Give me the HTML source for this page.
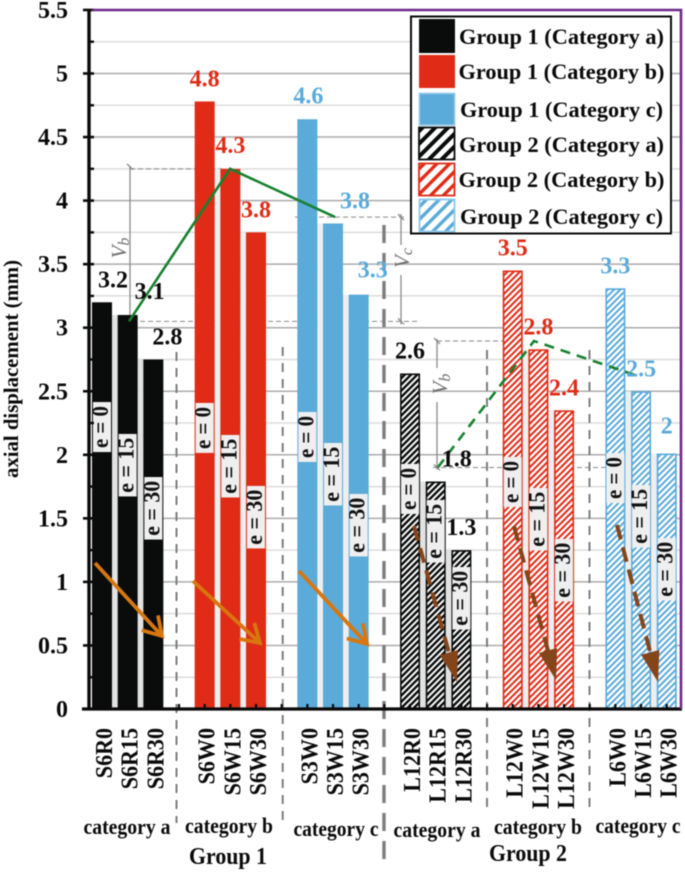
<!DOCTYPE html>
<html lang="en">
<head>
<meta charset="utf-8">
<title>Axial displacement chart</title>
<style>
html,body{margin:0;padding:0;background:#fff;width:685px;height:873px;overflow:hidden}
svg{display:block;filter:blur(0.6px)}
text{font-family:"Liberation Serif",serif}
</style>
</head>
<body>
<svg id="chart" xmlns="http://www.w3.org/2000/svg" width="685" height="873" viewBox="0 0 685 873">
  <defs>
    <pattern id="fine-black" patternUnits="userSpaceOnUse" width="4.4" height="4.4" patternTransform="rotate(45)"><rect width="4.4" height="4.4" fill="#fff"/><rect width="2.4" height="4.4" fill="#0a0c0b"/></pattern>
    <pattern id="fine-red" patternUnits="userSpaceOnUse" width="4.4" height="4.4" patternTransform="rotate(45)"><rect width="4.4" height="4.4" fill="#fff"/><rect width="2" height="4.4" fill="#e02b16"/></pattern>
    <pattern id="fine-blue" patternUnits="userSpaceOnUse" width="4.4" height="4.4" patternTransform="rotate(45)"><rect width="4.4" height="4.4" fill="#fff"/><rect width="2" height="4.4" fill="#5aaada"/></pattern>
    <pattern id="wide-black" patternUnits="userSpaceOnUse" width="9" height="9" patternTransform="rotate(45)"><rect width="9" height="9" fill="#fff"/><rect width="4" height="9" fill="#0a0c0b"/></pattern>
    <pattern id="wide-red" patternUnits="userSpaceOnUse" width="9" height="9" patternTransform="rotate(45)"><rect width="9" height="9" fill="#fff"/><rect width="3.4" height="9" fill="#e02b16"/></pattern>
    <pattern id="wide-blue" patternUnits="userSpaceOnUse" width="9" height="9" patternTransform="rotate(45)"><rect width="9" height="9" fill="#fff"/><rect width="3.4" height="9" fill="#5aaada"/></pattern>
  </defs>
  <g id="grid-layer"></g>
  <g id="guide-layer"></g>
  <g id="bar-layer"></g>
  <g id="divider-layer"></g>
  <g id="e-layer"></g>
  <g id="line-layer"></g>
  <g id="arrow-layer"></g>
  <g id="value-layer"></g>
  <g id="axis-layer"></g>

  <path d="M92 10H681V709" fill="none" stroke="#6d2a88" stroke-width="2.6"/>
  <text transform="translate(18,369) rotate(-90)" text-anchor="middle" font-size="21" font-weight="bold" fill="#0a0a0a" textLength="218" lengthAdjust="spacingAndGlyphs">axial displacement (mm)</text>

  <g>
    <rect x="411" y="16.5" width="260" height="217" fill="#fff" stroke="#0a0a0a" stroke-width="2"/>
    <rect x="419" y="19" width="36" height="34" fill="#0a0c0b"/>
    <rect x="419" y="55" width="36" height="33" fill="#e02b16"/>
    <rect x="419.5" y="93.5" width="35" height="31.5" fill="#5aaada" stroke="#8cc6e8" stroke-width="1.6"/>
    <rect x="419" y="127.5" width="35.5" height="32" fill="url(#wide-black)" stroke="#0a0c0b" stroke-width="1.8"/>
    <rect x="419" y="163.5" width="35.5" height="32" fill="url(#wide-red)" stroke="#e02b16" stroke-width="1.8"/>
    <rect x="419.5" y="199.5" width="35" height="32" fill="url(#wide-blue)" stroke="#8cc6e8" stroke-width="1.8"/>
    <g font-size="22.5" font-weight="bold" fill="#0a0a0a">
      <text x="459" y="44" textLength="205" lengthAdjust="spacingAndGlyphs">Group 1 (Category a)</text>
      <text x="458.5" y="79" textLength="206" lengthAdjust="spacingAndGlyphs">Group 1 (Category b)</text>
      <text x="460" y="117" textLength="203" lengthAdjust="spacingAndGlyphs">Group 1 (Category c)</text>
      <text x="459" y="152" textLength="205" lengthAdjust="spacingAndGlyphs">Group 2 (Category a)</text>
      <text x="458.5" y="187" textLength="206" lengthAdjust="spacingAndGlyphs">Group 2 (Category b)</text>
      <text x="460" y="224" textLength="203" lengthAdjust="spacingAndGlyphs">Group 2 (Category c)</text>
    </g>
  </g>

  <g font-size="22" font-weight="bold" fill="#0a0a0a" text-anchor="middle">
    <text x="127" y="834" textLength="87" lengthAdjust="spacingAndGlyphs">category a</text>
    <text x="229" y="833" textLength="88" lengthAdjust="spacingAndGlyphs">category b</text>
    <text x="336" y="836" textLength="85" lengthAdjust="spacingAndGlyphs">category c</text>
    <text x="437" y="837" textLength="87" lengthAdjust="spacingAndGlyphs">category a</text>
    <text x="538" y="834" textLength="88" lengthAdjust="spacingAndGlyphs">category b</text>
    <text x="638" y="833" textLength="85" lengthAdjust="spacingAndGlyphs">category c</text>
  </g>
  <text x="228" y="864" text-anchor="middle" font-size="24" font-weight="bold" fill="#0a0a0a" textLength="78" lengthAdjust="spacingAndGlyphs">Group 1</text>
  <text x="528" y="861" text-anchor="middle" font-size="24" font-weight="bold" fill="#0a0a0a" textLength="78" lengthAdjust="spacingAndGlyphs">Group 2</text>
</svg>

<script>
const categories = ['S6R0','S6R15','S6R30','S6W0','S6W15','S6W30','S3W0','S3W15','S3W30','L12R0','L12R15','L12R30','L12W0','L12W15','L12W30','L6W0','L6W15','L6W30'];
const barValues = [3.2,3.1,2.75,4.78,4.25,3.75,4.64,3.82,3.26,2.64,1.79,1.25,3.45,2.83,2.35,3.31,2.5,2.01];
const printedValues = ['3.2','3.1','2.8','4.8','4.3','3.8','4.6','3.8','3.3','2.6','1.8','1.3','3.5','2.8','2.4','3.3','2.5','2'];
const eLabels = ['e = 0','e = 15','e = 30'];
const eLabelTopValues = [2.415,2.164,1.825,2.408,2.156,1.755,2.337,2.093,1.692,1.928,1.644,1.117,1.983,1.739,1.338,2.014,1.762,1.345];
const yTickValues = [0,0.5,1,1.5,2,2.5,3,3.5,4,4.5,5,5.5];
const yTickLabels = ['0','0.5','1','1.5','2','2.5','3','3.5','4','4.5','5','5.5'];
const yMinorValues = [0.25,0.75,1.25,1.75,2.25,2.75,3.25,3.75,4.25,4.75,5.25];
const group1TrendValues = [3.05,4.25,3.87];
const group2TrendValues = [1.9,2.895,2.62];
</script>
<script>
const NS = 'http://www.w3.org/2000/svg';
const y0 = 709, unit = 127.1, slotStart = 92, slotStep = 25.67, barW = 20;
const yScale = v => y0 - unit * v;
const slotOf = i => Math.floor(i / 3) * 4 + i % 3;
const xScale = i => slotStart + slotStep * slotOf(i);
const groupColors = ['#0a0c0b','#e02b16','#5aaada'];
const solidFills = ['#0a0c0b','#e02b16','#5aaada'];
const hatchFills = ['url(#fine-black)','url(#fine-red)','url(#fine-blue)'];
const labelColors = ['#0a0a0a','#e02b16','#5aaada'];
const labelDx = [11,22,14,0,0,0,1,22,14,0,21,0,0,0,0,0,0,0];
const labelDy = [-15,-16,-15,-15,-16,-15,-16,-15,-17,-15,-15,-15,-15,-15,-15,-15,-15,-20];
const layer = id => document.getElementById(id);
function make(tag, attrs, parent, text) {
  const n = document.createElementNS(NS, tag);
  for (const k in attrs) n.setAttribute(k, attrs[k]);
  if (text !== undefined) n.textContent = text;
  parent.appendChild(n);
  return n;
}

/* gridlines */
yMinorValues.forEach(v => {
  const l = make('line', {x1:90,x2:680,y1:yScale(v),y2:yScale(v),stroke:'#dcdcdc','stroke-width':1.5}, layer('grid-layer'));
  
  
});
yTickValues.slice(1, -1).forEach(v => {
  const l = make('line', {x1:90,x2:680,y1:yScale(v),y2:yScale(v),stroke:'#ababab','stroke-width':1.5}, layer('grid-layer'));
  
  
});

/* dimension guides tied to the trend values */
function guide(d, dash, name) {
  const attrs = {d:d,fill:'none',stroke:'#8a8a8a','stroke-width':dash ? 1 : 1.3};
  if (dash) attrs['stroke-dasharray'] = '5 3';
  const p = make('path', attrs, layer('guide-layer'));
  
  
}
const g1a = yScale(group1TrendValues[0]), g1b = yScale(group1TrendValues[1]), g1c = yScale(group1TrendValues[2]);
const g2a = yScale(group2TrendValues[0]), g2b = yScale(group2TrendValues[1]);
guide('M108 '+g1a+'H417', true, 'baseline-guide-group-1');
guide('M130 '+g1b+'H222', true, 'vb-top-guide-group-1');
guide('M295 '+g1c+'H405', true, 'vc-top-guide');
guide('M130 '+(g1b-3)+'V'+(g1a+3), false, 'vb-line-group-1');
guide('M127 '+(g1b-5)+'l6 6M127 '+(g1a-3)+'l6 6', false, 'vb-ticks-group-1');
guide('M401 '+(g1c-3)+'V245M401 275V'+(g1a+3), false, 'vc-line');
guide('M398 '+(g1c-3)+'l6 6M398 '+(g1a-3)+'l6 6', false, 'vc-ticks');
guide('M437 '+g2b+'H503', true, 'vb-top-guide-group-2');
guide('M433 '+g2a+'H606', true, 'vb-bottom-guide-group-2');
guide('M437 '+(g2b-2)+'V368M437 402V'+(g2a+2), false, 'vb-line-group-2');
guide('M434 '+(g2b-3)+'l6 6M434 '+(g2a-3)+'l6 6', false, 'vb-ticks-group-2');
function dimLabel(x, y, main, sub, name) {
  const t = make('text', {transform:'translate('+x+','+y+') rotate(-90)','font-size':21,'font-style':'italic',fill:'#6f6f6f','text-anchor':'middle'}, layer('guide-layer'), main);
  make('tspan', {dy:3,'font-size':16}, t, sub);
  
  
}
dimLabel(126, 248, 'V', 'b', 'vb-label-group-1');
dimLabel(409, 258, 'V', 'c', 'vc-label');
dimLabel(447, 384, 'V', 'b', 'vb-label-group-2');

/* bars */
categories.forEach((name, i) => {
  const x = xScale(i), top = yScale(barValues[i]), groupIx = Math.floor(i / 3);
  const isHatched = groupIx >= 3, color = groupIx % 3;
  if (i % 3 < 2) {
    const gapTop = Math.max(top, yScale(barValues[i + 1]));
    const gap = make('rect', {x:x+barW,y:gapTop,width:slotStep-barW,height:y0-gapTop,fill:color === 0 ? '#e2e2e2' : '#eeeeee'}, layer('bar-layer'));
    
    
  }
  const attrs = isHatched
    ? {x:x+0.8,y:top+0.8,width:barW-1.6,height:y0-top-0.8,fill:hatchFills[color],stroke:groupColors[color],'stroke-width':1.6}
    : {x:x,y:top,width:barW,height:y0-top,fill:solidFills[color]};
  const bar = make('rect', attrs, layer('bar-layer'));
  
  
});

/* dashed dividers */
const dividers = [[176.5,352,823,2,'#7d7d7d','9 7'],[282.7,347,823,2,'#7d7d7d','9 7'],[384,225,865,3.4,'#7d7d7d','18 10'],[487,350,813,2,'#7d7d7d','9 7'],[589.5,350,813,2,'#7d7d7d','9 7']];
dividers.forEach(d => {
  const l = make('line', {x1:d[0],x2:d[0],y1:d[1],y2:d[2],stroke:d[4],'stroke-width':d[3],'stroke-dasharray':d[5]}, layer('divider-layer'));
  
  
});

/* e labels */
categories.forEach((name, i) => {
  const txt = eLabels[i % 3], len = i % 3 === 0 ? 50 : 62.5, textLen = i % 3 === 0 ? 42 : 55;
  const top = yScale(eLabelTopValues[i]), x = xScale(i) + 1;
  const box = make('rect', {x:x,y:top,width:18,height:len,fill:'#efefef'}, layer('e-layer'));
  
  
  const t = make('text', {transform:'translate('+(x+15)+','+(top+len/2)+') rotate(-90)','text-anchor':'middle','font-size':23,'font-weight':'bold',fill:'#111',textLength:textLen,lengthAdjust:'spacingAndGlyphs'}, layer('e-layer'), txt);
  
  
});

/* trend lines */
const group1TrendSlots = [1.44,5.38,9.47];
const group2TrendSlots = [13.47,17.22,21.27];
const slotX = s => slotStart + slotStep * s;
const pts = (vals, slots) => vals.map((v, i) => slotX(slots[i]).toFixed(1) + ',' + yScale(v).toFixed(1)).join(' ');
const solidTrend = make('polyline', {points:pts(group1TrendValues, group1TrendSlots),fill:'none',stroke:'#17812f','stroke-width':2.6}, layer('line-layer'));


const dashTrend = make('polyline', {points:pts(group2TrendValues, group2TrendSlots),fill:'none',stroke:'#17812f','stroke-width':2.6,'stroke-dasharray':'10 7'}, layer('line-layer'));



/* arrows */
const orangeArrows = [[95,563,162,636],[193,581,260,643],[299,571,367,644]];
orangeArrows.forEach(a => {
  const ang = Math.atan2(a[3]-a[1], a[2]-a[0]), L = 21, w = 0.55;
  const p1 = (a[2]-L*Math.cos(ang-w)).toFixed(1)+','+(a[3]-L*Math.sin(ang-w)).toFixed(1);
  const p2 = (a[2]-L*Math.cos(ang+w)).toFixed(1)+','+(a[3]-L*Math.sin(ang+w)).toFixed(1);
  const p = make('path', {d:'M'+a[0]+' '+a[1]+'L'+a[2]+' '+a[3]+'M'+p1+'L'+a[2]+' '+a[3]+'L'+p2,fill:'none',stroke:'#d9760e','stroke-width':3.8}, layer('arrow-layer'));
  
  
});
const brownArrows = [[414,526,457,682],[514,526,556,680],[617,525,658,682]];
brownArrows.forEach(a => {
  const ang = Math.atan2(a[3]-a[1], a[2]-a[0]), L = 32, w = 0.3;
  const bx = a[2]-24*Math.cos(ang), by = a[3]-24*Math.sin(ang);
  const l = make('line', {x1:a[0],y1:a[1],x2:bx,y2:by,stroke:'#84451b','stroke-width':4,'stroke-dasharray':'15 8'}, layer('arrow-layer'));
  
  
  const h = make('polygon', {points:a[2]+','+a[3]+' '+(a[2]-L*Math.cos(ang-w)).toFixed(1)+','+(a[3]-L*Math.sin(ang-w)).toFixed(1)+' '+(a[2]-L*Math.cos(ang+w)).toFixed(1)+','+(a[3]-L*Math.sin(ang+w)).toFixed(1),fill:'#84451b'}, layer('arrow-layer'));
  
  
});

/* value labels */
printedValues.forEach((txt, i) => {
  const t = make('text', {x:xScale(i)+barW/2+labelDx[i],y:yScale(barValues[i])+labelDy[i],'text-anchor':'middle','font-size':24,'font-weight':'bold',fill:labelColors[Math.floor(i/3)%3]}, layer('value-layer'), txt);
  
  
});

/* axes */
const yAxis = make('line', {x1:89,x2:89,y1:9,y2:710,stroke:'#0a0a0a','stroke-width':3.4}, layer('axis-layer'));


const xAxis = make('line', {x1:82,x2:682,y1:y0,y2:y0,stroke:'#0a0a0a','stroke-width':3.2}, layer('axis-layer'));


yTickValues.forEach((v, i) => {
  const tick = make('line', {x1:83,x2:94,y1:yScale(v),y2:yScale(v),stroke:'#0a0a0a','stroke-width':2.6}, layer('axis-layer'));
  
  
  const t = make('text', {x:68,y:yScale(v)+8,'text-anchor':'end','font-size':24,'font-weight':'bold',fill:'#0a0a0a'}, layer('axis-layer'), yTickLabels[i]);
  
  
});
yMinorValues.forEach(v => {
  const tick = make('line', {x1:89,x2:94,y1:yScale(v),y2:yScale(v),stroke:'#0a0a0a','stroke-width':2.4}, layer('axis-layer'));
  
  
});
for (let s = 0; s < 24; s++) {
  const tx = slotX(s) + barW / 2;
  const tick = make('line', {x1:tx,x2:tx,y1:y0-5,y2:y0,stroke:'#0a0a0a','stroke-width':2.2}, layer('axis-layer'));
  
  
}
categories.forEach((name, i) => {
  const x = xScale(i) + barW / 2 + 10;
  const t = make('text', {transform:'translate('+x+',728) rotate(-90)','text-anchor':'end','font-size':24.5,'font-weight':'bold',fill:'#0a0a0a'}, layer('axis-layer'), name);
  
  
  t.setAttribute('textLength', (t.getComputedTextLength() * 0.9).toFixed(1));
  t.setAttribute('lengthAdjust', 'spacingAndGlyphs');
});
</script>
</body>
</html>
